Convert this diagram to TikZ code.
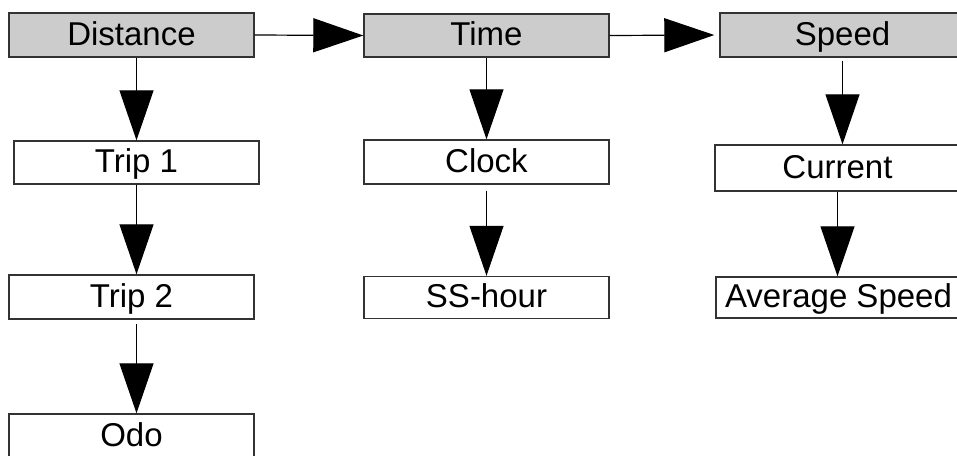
\documentclass[tikz,border=0pt]{standalone}
\usepackage{fontspec}
\setmainfont{Liberation Sans}
\usetikzlibrary{arrows.meta}
\definecolor{boxgray}{RGB}{204,204,204}
\definecolor{edgegray}{RGB}{51,51,51}
\tikzset{
  box/.style={draw=edgegray, line width=1.4pt, minimum width=245pt, inner sep=0pt,
    font=\fontsize{33}{36}\selectfont, text height=23.6pt, text depth=3pt},
  conn/.style={line width=1.2pt, draw=black, -{Triangle[length=50pt,width=34pt]}},
}
\begin{document}
\begin{tikzpicture}[x=1pt,y=-1pt]
\useasboundingbox (0,0) rectangle (957,455);
\fill[white] (0,0) rectangle (957,455);
% top row
\node[box, fill=boxgray, minimum height=44pt] (dist) at (131.5,35) {Distance};
\node[box, fill=boxgray, minimum height=43pt] (time) at (486.5,35.5) {Time};
\node[box, fill=boxgray, minimum height=44pt] (speed) at (842.5,35) {Speed};
% distance column
\node[box, minimum height=43pt] (trip1) at (136.5,162.5) {Trip 1};
\node[box, minimum height=44pt] (trip2) at (131.5,297) {Trip 2};
\node[box, minimum height=44pt] (odo) at (131.5,436) {Odo};
% time column
\node[box, minimum height=44pt] (clock) at (486.5,162) {Clock};
\node[box, minimum height=42pt] (ss) at (486.5,297.5) {SS-hour};
% speed column
\node[box, minimum height=46pt] (current) at (837.5,168) {Current};
\node[box, minimum height=41pt] (avg) at (838.5,297.5) {Average Speed};
% connectors
\draw[conn] (dist.east) -- (time.west);
\draw[conn, shorten >=5pt] (time.east) -- (speed.west);
\draw[conn] (dist.south -| trip1) -- (trip1.north);
\draw[conn] (trip1.south) -- (trip1.south |- trip2.north);
\draw[conn, shorten <=4pt] (trip2.south -| trip1) -- (trip1.south |- odo.north);
\draw[conn] (time.south) -- (clock.north);
\draw[conn, shorten <=6pt] (clock.south) -- (ss.north);
\draw[conn, shorten <=3pt] (speed.south) -- (speed.south |- current.north);
\draw[conn] (current.south) -- (current.south |- avg.north);
\end{tikzpicture}
\end{document}
